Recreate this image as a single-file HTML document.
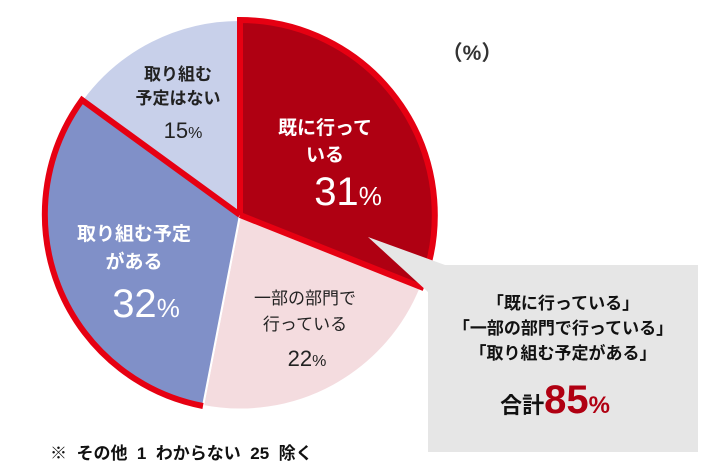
<!DOCTYPE html>
<html><head><meta charset="utf-8"><style>
body{margin:0;background:#fff;}
svg text{font-family:"Liberation Sans","Noto Sans CJK JP",sans-serif;}
</style></head><body>
<svg width="718" height="469" viewBox="0 0 718 469" xmlns="http://www.w3.org/2000/svg">
<g stroke="#fff" stroke-width="2">
<path d="M240,215 L240,20 A195,195 0 0 1 421,287 Z" fill="#af0012"/>
<path d="M240,215 L421,287 A195,195 0 0 1 203,406 Z" fill="#f4dcdf"/>
<path d="M240,215 L203,406 A195,195 0 0 1 82,100 Z" fill="#8090c8"/>
<path d="M240,215 L82,100 A195,195 0 0 1 240,20 Z" fill="#c8d0ea"/>
</g>
<g fill="none" stroke="#e60012" stroke-width="6" stroke-linejoin="miter">
<path d="M240,215 L240,20 A195,195 0 0 1 421,287 L240,215"/>
<path d="M203,406 A195,195 0 0 1 82,100 L240,215"/>
</g>
<polygon points="368,237 445,265 428,292" fill="#e6e6e6"/>
<rect x="428" y="265" width="270" height="187" fill="#e6e6e6"/>
<g text-anchor="middle" font-weight="bold">
<text x="325" y="134" font-size="19" fill="#fff">既に行って</text>
<text x="325" y="161" font-size="19" fill="#fff">いる</text>
<text x="348" y="205" font-size="40" fill="#fff" font-weight="normal">31<tspan font-size="26">%</tspan></text>
<text x="178" y="80" font-size="17" fill="#222">取り組む</text>
<text x="178" y="104" font-size="17" fill="#222">予定はない</text>
<text x="183" y="138" font-size="22" fill="#222" font-weight="normal">15<tspan font-size="16">%</tspan></text>
<text x="134" y="240" font-size="19" fill="#fff">取り組む予定</text>
<text x="134" y="268" font-size="19" fill="#fff">がある</text>
<text x="146" y="317" font-size="40" fill="#fff" font-weight="normal">32<tspan font-size="26">%</tspan></text>
<text x="305" y="304" font-size="17" fill="#222" font-weight="normal">一部の部門で</text>
<text x="305" y="330" font-size="17" fill="#222" font-weight="normal">行っている</text>
<text x="307" y="366" font-size="22" fill="#222" font-weight="normal">22<tspan font-size="16">%</tspan></text>
<text x="563" y="309" font-size="17" fill="#111">「既に行っている」</text>
<text x="563" y="334" font-size="17" fill="#111">「一部の部門で行っている」</text>
<text x="563" y="359" font-size="17" fill="#111">「取り組む予定がある」</text>
<text x="555" y="413" font-size="22" fill="#111">合計<tspan fill="#b00012" font-size="40" font-family="Liberation Sans,sans-serif">85</tspan><tspan fill="#b00012" font-size="24">%</tspan></text>
</g>
<text x="472" y="60" font-size="21" font-weight="bold" fill="#333" text-anchor="middle">（%）</text>
<text x="50" y="459" font-size="17" font-weight="bold" fill="#111" style="white-space:pre">※  その他  1  わからない  25  除く</text>
</svg>
</body></html>
